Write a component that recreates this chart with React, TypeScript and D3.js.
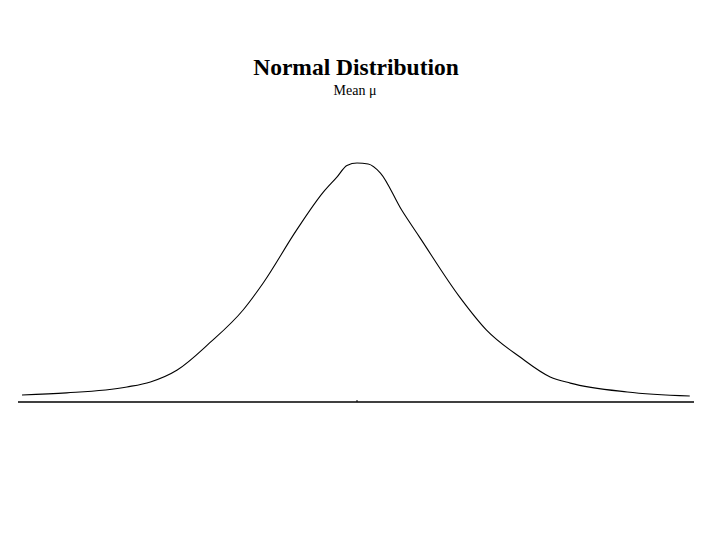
import React from "react";
import * as d3 from "d3";

const xs = [-3.0, -2.6, -2.06, -1.85, -1.61, -1.32, -1.02, -0.84, -0.54, -0.3, -0.18, -0.09, 0, 0.1, 0.21, 0.4, 0.56, 0.92, 1.16, 1.46, 1.73, 1.91, 2.42, 2.98];
const ys = [0.029, 0.038, 0.063, 0.084, 0.134, 0.247, 0.385, 0.498, 0.72, 0.879, 0.941, 0.99, 1.0, 0.996, 0.958, 0.803, 0.69, 0.439, 0.301, 0.188, 0.105, 0.079, 0.042, 0.025];
const title = "Normal Distribution";
const subtitle = "Mean \u03bc";
const meanTick = [0];

export default function App() {
  const W = 720, H = 540;
  const x = d3.scaleLinear().domain([-3, 3]).range([22, 692]);
  const y = d3.scaleLinear().domain([0, 1]).range([402, 163]);
  const pts = xs.map((v, i) => [v, ys[i]] as [number, number]);
  const line = d3.line<[number, number]>().x(d => x(d[0])).y(d => y(d[1])).curve(d3.curveMonotoneX);
  return (
    <svg width={W} height={H} style={{ position: "absolute", left: 0, top: 0, background: "#fff" }}>
      <text x={356} y={75} textAnchor="middle" fontFamily="Liberation Serif, Times New Roman, serif" fontWeight="bold" fontSize={23.5}>{title}</text>
      <text x={355} y={95} textAnchor="middle" fontFamily="Liberation Serif, Times New Roman, serif" fontSize={14}>{subtitle}</text>
      <path d={line(pts) || ""} fill="none" stroke="#000" strokeWidth={1.1} />
      <line x1={18} x2={694} y1={y(0)} y2={y(0)} stroke="#000" strokeWidth={1.3} />
      {meanTick.map((m, i) => (
        <line key={i} x1={x(m)} x2={x(m)} y1={y(0)} y2={y(0) - 2} stroke="#000" strokeWidth={1} />
      ))}
    </svg>
  );
}
